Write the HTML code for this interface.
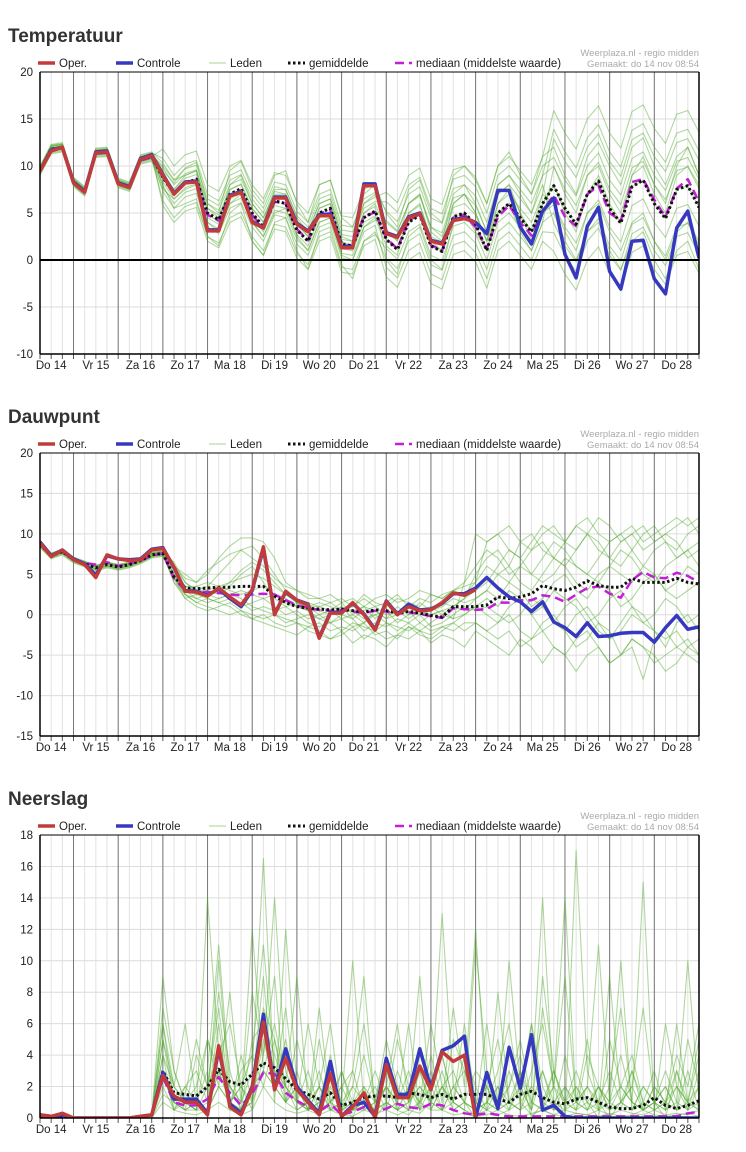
<!DOCTYPE html>
<html><head><meta charset="utf-8"><style>
html,body{margin:0;padding:0;background:#fff;}
svg{display:block;font-family:"Liberation Sans",Arial,sans-serif;}
</style></head><body>
<svg id="chart" width="746" height="1152" viewBox="0 0 746 1152" xmlns="http://www.w3.org/2000/svg"></svg>
<script>
// ---- shared categories ----
const dayLabels = ["Do 14","Vr 15","Za 16","Zo 17","Ma 18","Di 19","Wo 20","Do 21","Vr 22","Za 23","Zo 24","Ma 25","Di 26","Wo 27","Do 28"];
const nSteps = 60;

// ---- Temperatuur ----
const tempTicks = [20,15,10,5,0,-5,-10];
const tempOper = [9.5,11.6,12.0,8.2,7.2,11.4,11.5,8.1,7.7,10.7,11.1,9.0,7.0,8.2,8.3,3.1,3.1,6.8,7.2,4.0,3.4,6.6,6.6,3.8,3.0,4.7,4.7,1.3,1.3,7.9,7.9,2.8,2.4,4.5,4.9,2.0,1.7,4.2,4.4,4.0];
const tempCtrl = [9.5,11.7,12.0,8.3,7.3,11.5,11.6,8.2,7.8,10.8,11.2,9.1,7.1,8.3,8.4,3.2,3.2,6.9,7.3,4.1,3.5,6.7,6.7,3.9,3.1,4.8,4.9,1.4,1.4,8.1,8.1,2.9,2.5,4.6,5.0,2.1,1.8,4.3,4.5,4.0,2.8,7.4,7.4,3.5,1.7,5.2,6.6,0.6,-1.9,3.6,5.6,-1.2,-3.1,2.0,2.1,-2.0,-3.6,3.4,5.2,0.2];
const tempMean = [9.5,11.8,12,8.3,7.3,11.4,11.5,8.2,7.8,10.7,11,8.8,7,8.2,8.6,5,4.3,7,7.6,5,3.5,6.3,6,3.2,2,5,5.5,1.7,1.5,4.5,5.2,2.2,1.1,4,4.8,1.5,0.9,4.6,5,3.8,1,5,6,4.5,3,6,7.9,5.5,3.8,7,8.4,5.5,3.9,7.8,8.5,6,4.4,7.5,7.9,5.6];
const tempMedian = [9.5,11.7,11.9,8.2,7.3,11.3,11.4,8.1,7.7,10.6,10.9,8.8,7.1,8.1,8.5,4.8,4.2,6.9,7.4,4.8,3.4,6.2,6.0,3.3,2.1,4.9,5.3,1.6,1.5,4.6,5.1,2.3,1.2,4.2,4.9,1.6,1.0,4.5,4.8,3.5,1.2,4.6,5.8,4.0,2.6,5.2,6.9,4.6,3.6,7.0,7.9,5.0,4.2,8.3,8.6,6.4,4.6,7.6,8.6,6.2];
const tempM1 = [9.9,12.2,12.4,8.7,7.7,11.8,11.9,8.6,8.2,11.1,11.4,10.8,9,10.2,10.6,7,6.3,9,9.6,7,5.5,8.3,8,5.2,4,7,7.5,3.7,3.5,6.5,7.2,5.2,4.1,7,7.8,4.5,3.9,7.6,8,6.8,4,8,9,7.5,6,9,13.9,11.5,9.8,13,14.4,11.5,9.9,13.8,14.5,12,10.4,13.5,13.9,11.6];
const tempM2 = [9.1,11.4,11.6,7.9,6.9,11,11.1,7.8,7.4,10.3,10.6,7.3,5.5,6.7,7.1,3.5,2.8,5.5,6.1,3.5,2,4.8,4.5,1.7,0.5,3.5,4,0.2,0,3,3.7,-0.8,-1.9,1,1.8,-1.5,-2.1,1.6,2,0.8,-2,2,3,1.5,0,3,2.9,0.5,-1.2,2,3.4,0.5,-1.1,2.8,3.5,1,-0.6,2.5,2.9,0.6];
const tempM3 = [9.7,12,12.2,8.5,7.5,11.6,11.7,8.4,8,10.9,11.2,9.8,8,9.2,9.6,6,5.3,8,8.6,6,4.5,7.3,7,4.2,3,6,6.5,2.7,2.5,5.5,6.2,6.2,5.1,8,8.8,5.5,4.9,8.6,9,7.8,5,9,10,8.5,7,10,10.9,8.5,6.8,10,11.4,8.5,6.9,10.8,11.5,9,7.4,10.5,10.9,8.6];
const tempM4 = [9.3,11.6,11.8,8.1,7.1,11.2,11.3,8,7.6,10.5,10.8,6.3,4.5,5.7,6.1,2.5,1.8,4.5,5.1,2.5,1,3.8,3.5,0.7,-0.5,2.5,3,-0.8,-1,2,2.7,1.2,0.1,3,3.8,0.5,-0.1,3.6,4,2.8,0,4,5,3.5,2,5,5.9,3.5,1.8,5,6.4,3.5,1.9,5.8,6.5,4,2.4,5.5,5.9,3.6];
const tempM5 = [9.5,11.8,12,8.3,7.3,11.4,11.5,8.2,7.8,10.7,11,11.8,10,11.2,11.6,8,7.3,10,10.6,8,6.5,9.3,9,6.2,5,8,8.5,4.7,4.5,7.5,8.2,3.2,2.1,5,5.8,2.5,1.9,5.6,6,4.8,2,6,7,5.5,4,7,12.9,10.5,8.8,12,13.4,10.5,8.9,12.8,13.5,11,9.4,12.5,12.9,10.6];
const tempM6 = [9.8,12.1,12.3,8.6,7.6,11.7,11.8,8.5,8.1,11,11.3,7.8,6,7.2,7.6,4,3.3,6,6.6,4,2.5,5.3,5,2.2,1,4,4.5,0.7,0.5,3.5,4.2,4.2,3.1,6,6.8,3.5,2.9,6.6,7,5.8,3,7,8,6.5,5,8,3.9,1.5,-0.2,3,4.4,1.5,-0.1,3.8,4.5,2,0.4,3.5,3.9,1.6];
const tempM7 = [9.2,11.5,11.7,8,7,11.1,11.2,7.9,7.5,10.4,10.7,9.3,7.5,8.7,9.1,5.5,4.8,7.5,8.1,5.5,4,6.8,6.5,3.7,2.5,5.5,6,2.2,2,5,5.7,0.2,-0.9,2,2.8,-0.5,-1.1,2.6,3,1.8,-1,3,4,2.5,1,4,9.9,7.5,5.8,9,10.4,7.5,5.9,9.8,10.5,8,6.4,9.5,9.9,7.6];
const tempM8 = [9.6,11.9,12.1,8.4,7.4,11.5,11.6,8.3,7.9,10.8,11.1,5.8,4,5.2,5.6,2,1.3,4,4.6,2,0.5,3.3,3,0.2,-1,2,2.5,-1.3,-1.5,1.5,2.2,-1.8,-2.9,0,0.8,-2.5,-3.1,0.6,1,-0.2,-3,1,2,0.5,-1,2,0.9,-1.5,-3.2,0,1.4,-1.5,-3.1,0.8,1.5,-1,-2.6,0.5,0.9,-1.4];
const tempM9 = [10,12.3,12.5,8.8,7.8,11.9,12,8.7,8.3,11.2,11.5,10.3,8.5,9.7,10.1,6.5,5.8,8.5,9.1,6.5,5,7.8,7.5,4.7,3.5,6.5,7,3.2,3,6,6.7,7.2,6.1,9,9.8,6.5,5.9,9.6,10,8.8,6,10,11,9.5,8,11,15.9,13.5,11.8,15,16.4,13.5,11.9,15.8,16.5,14,12.4,15.5,15.9,13.6];
const tempM10 = [9,11.3,11.5,7.8,6.8,10.9,11,7.7,7.3,10.2,10.5,8.3,6.5,7.7,8.1,4.5,3.8,6.5,7.1,4.5,3,5.8,5.5,2.7,1.5,4.5,5,1.2,1,4,4.7,2.2,1.1,4,4.8,1.5,0.9,4.6,5,3.8,1,5,6,4.5,3,6,7.9,5.5,3.8,7,8.4,5.5,3.9,7.8,8.5,6,4.4,7.5,7.9,5.6];
const tempM11 = [9.7,12.1,12.3,8.6,7.6,11.7,11.8,8.5,8.1,11,11.3,9.5,8.2,9.8,10.4,6,5,9.5,10.5,7.5,6,9,9.5,6,4,8,8.5,4.5,3.5,7,8,5,3.5,7.5,8.5,5,4,9,10,8.5,6,10,11.5,9,7,11,12,9,7,11,12.5,10,8,12,13,10,8,11,12,9];
const tempM12 = [9.4,11.7,11.9,8.2,7.2,11.3,11.4,8.1,7.7,10.6,10.9,8,5.5,6,6.5,2.5,1.5,5,6,2,0.5,4,4.5,1,-1,3,3.5,-0.5,-2,2,3,0,-1.5,2.5,3.5,0,-1,4,5,3,1,6,7.5,5,3,7,6,3,1,5,6,3,1,4,5,2,0,3,4,2];
const tempM13 = [9.6,11.9,12.1,8.4,7.4,11.5,11.6,8.3,7.9,10.8,11.1,9,7.5,9,9.5,5,4,8,9,6,4.5,7,7,4,2.5,5.5,6,2,1.5,5,6,3,2,6,7,3,2,7,8,6,3,8,9,7,5,9,10,7,5,9,10,7,5,9,10,7,5,9,10,8];
const tempM14 = [9.3,11.5,11.8,8.0,7.0,11.2,11.3,8.0,7.6,10.5,10.8,7.5,6.5,7.5,8,4,3,6,7,4,2.5,5,5.5,2.5,1,4,4.5,0.5,0,3.5,4.5,1.5,0.5,5,6,2,1,6,7,5,2,7,8,5,2,6,8,5,3,7,9,6,4,9,11,8,6,10,12,9];
const tempM15 = [9.8,12.2,12.3,8.5,7.5,11.6,11.8,8.4,8.0,10.9,11.2,10,8.5,9,9.5,5.5,4.5,7.5,8,5.5,4,7.5,7.5,4.5,3,6,6.5,2.5,2,6,7,4,3,6,7,3.5,2.5,6,7,5,2,5,6,3,1,4,5,2,0,3,4,1,-1,2,3,0,-2,1,2,-1];

// ---- Dauwpunt ----
const dewTicks = [20,15,10,5,0,-5,-10,-15];
const dewOper = [8.9,7.2,8.0,6.8,6.2,4.6,7.4,6.9,6.7,6.8,8.0,8.2,5.9,2.9,2.8,2.3,3.3,2.2,1.2,3.1,8.4,0,2.9,1.8,1.2,-2.9,0.2,0.2,1.5,0,-1.9,1.6,0,1.0,0.5,0.6,1.5,2.7,2.4,3.1];
const dewCtrl = [9.0,7.3,8.0,6.9,6.3,4.9,7.3,6.9,6.8,6.9,8.1,8.3,5.8,3.0,2.9,2.4,3.2,2.0,1.0,3.0,8.2,0.1,2.8,1.8,1.3,-2.8,0.3,0.3,1.4,0.1,-1.8,1.7,0.1,1.3,0.6,0.7,1.4,2.6,2.6,3.3,4.6,3.3,2.2,1.6,0.4,1.6,-0.9,-1.6,-2.7,-1.0,-2.7,-2.6,-2.3,-2.2,-2.2,-3.4,-1.6,-0.1,-1.8,-1.5];
const dewMean = [8.7,7.3,7.8,6.8,6.3,5.8,6.2,5.9,6.2,6.7,7.4,7.6,4.7,3.3,3.2,3.3,3.4,3.4,3.5,3.5,3.5,2.3,1.5,1.0,0.8,0.7,0.6,0.7,0.5,0.3,0.6,0.5,0.2,0.4,0.2,-0.1,-0.3,1.0,1.0,1.0,1.2,2.2,2.0,2.2,2.6,3.6,3.2,3.0,3.4,4.2,3.6,3.4,3.4,4.5,4.0,4.0,4.0,4.5,4.0,3.8];
const dewMedian = [8.7,7.3,7.8,6.8,6.4,6.2,6.5,6.0,6.3,6.7,7.3,7.6,4.5,3.0,2.8,2.8,2.7,2.5,2.4,2.5,2.6,2.5,1.8,1.2,0.8,0.6,0.5,0.6,0.4,0.2,0.5,0.4,0.1,0.3,0.1,-0.2,-0.4,0.8,0.7,0.6,0.7,1.5,1.5,1.8,1.8,2.4,2.2,1.6,2.5,3.3,3.5,2.6,2.1,4.3,5.3,4.6,4.5,5.2,4.8,4.0];
const dewM1 = [9.2,7.6,8.1,7.1,6.6,6.1,6.5,6.2,6.5,7,7.7,7.9,6,4.5,4,5,7,8.5,9.5,9.5,9,7,4,3,2,2,1.5,2,1,2.5,1.5,1,2,1.5,1,2.5,2,3,2.5,4,9,10,8,7,9,11,10,9,11,12,10,9,10,11,9,10,11,12,11,12];
const dewM2 = [8.4,7,7.5,6.5,6,5.5,5.9,5.6,5.9,6.4,7.1,7.3,5,2.5,1.5,1,0.5,0,0.5,-0.5,0,-1,-1.5,-1,-2,-2.5,-3,-2,-3.5,-2.5,-3,-4,-2.5,-3,-2,-3.5,-2.5,-3,-4,-2,-3,-4,-5,-3,-4,-6,-4,-5,-7,-5,-4,-6,-5,-3,-4,-6,-5,-4,-5,-6];
const dewM3 = [8.9,7.4,7.9,6.9,6.4,5.9,6.3,6,6.3,6.8,7.5,7.7,6.5,4,3,3.5,5,6.5,8,8.5,7,5,3,2,1.5,1,0.5,1.5,0,1,0.5,-0.5,1,0,1.5,0.5,1,2,1.5,2,3,5,6,4,3,5,7,6,4,3,5,6,8,7,5,4,6,7,8,6];
const dewM4 = [8.6,7.2,7.7,6.7,6.2,5.7,6.1,5.8,6.1,6.6,7.3,7.5,4,2,2.5,2,1.5,2,1,1.5,2,1,0,0.5,-0.5,0,-1,-0.5,-1.5,-1,0,-1,-2,-1,0,-1.5,-1,0,1,0.5,1,0,-1,0,2,1,-1,-2,0,1,-1,-3,-2,0,-1,-2,-4,-1,0,-2];
const dewM5 = [9,7.5,8,7,6.5,6,6.4,6.1,6.4,6.9,7.6,7.8,5.5,3.5,3,3,3.5,4,4.5,5,4.5,3.5,2.5,1.5,1,1.5,1,0.5,0.5,1,-0.5,0.5,0,1,0,0.5,1.5,1,2,5,7,8,6,9,10,8,7,9,11,10,8,7,9,10,8,9,10,9,7,8];
const dewM6 = [8.7,7.3,7.8,6.8,6.3,5.8,6.2,5.9,6.2,6.7,7.4,7.6,5,3,2.5,2.5,2,2.5,3,2.5,2,2.5,2,1,0.5,-0.5,-1,0,-0.5,-2,-1,-1.5,-0.5,-1,-2,-1,0,-0.5,0,1,2,1,3,2,0,1,3,2,1,-1,0,2,3,1,-1,0,2,1,-1,0];
const dewM7 = [8.8,7.4,7.9,6.9,6.4,5.9,6.3,6,6.3,6.8,7.5,7.7,6,5,4,5.5,6.5,7.5,8,7,6,4.5,3.5,3,2.5,2,2.5,1.5,2,1,2,2.5,1.5,2,3,2.5,2,3,3.5,4,6,5,4,6,5,4,5,7,6,5,4,6,5,4,6,5,3,4,6,5];
const dewM8 = [8.5,7.1,7.6,6.6,6.1,5.6,6,5.7,6,6.5,7.2,7.4,4.5,2,1,0.5,1,1.5,0.5,0,-0.5,0,-0.5,-1,-1.5,-1,-2,-1.5,-2,-1,-2.5,-2,-3,-1.5,-2,-2.5,-1.5,-2,-1,-1,-2,-1,0,-2,-3,-1,0,-2,-4,-3,-1,-2,-5,-4,-8,-3,-2,-4,-3,-5];
const dewM9 = [9.1,7.6,8.1,7.1,6.6,6.1,6.5,6.2,6.5,7,7.7,7.9,5.5,3.5,3.5,4,3.5,3,2.5,3,3.5,2.5,1.5,1,0.5,0.5,0,1,-0.5,0.5,1,0,0.5,-0.5,0.5,1,0,1,0.5,2,3,2,4,3,1,2,4,5,3,2,4,3,1,2,4,5,3,2,3,4];
const dewM10 = [8.3,6.9,7.4,6.4,5.9,5.4,5.8,5.5,5.8,6.3,7,7.2,4.5,3,3.5,3,2.5,3.5,5,6,4,2,1,1.5,1,0,0.5,-0.5,0,-1,0.5,-0.5,0,0.5,-1,0,0.5,-0.5,4,10,9,10,11,9,8,10,11,9,8,10,12,11,9,10,11,9,10,11,12,10];
const dewM11 = [8.8,7.4,7.9,6.9,6.4,5.9,6.3,6.0,6.3,6.8,7.5,7.7,5,3,2,1.5,2,2.5,2,1,0.5,0,-1,-0.5,0,-0.5,0,1,0.5,-0.5,0,0.5,-1,0,0.5,0,0.5,1,2,3,4,6,8,7,5,7,9,8,6,5,7,9,10,8,6,8,9,7,8,9];
const dewM12 = [8.6,7.2,7.7,6.7,6.2,5.7,6.1,5.8,6.1,6.6,7.3,7.5,4,2.5,2,2.5,3,2,1.5,0.5,1,0.5,1,0,-1,-1.5,-1,-2,-1,-1.5,-2,-1,-1.5,-2,-1,-2,-1.5,-1,0,1,0,-1,1,2,0,-2,-1,1,2,0,-2,-3,-1,1,0,-2,-3,-2,-4,-5];
const dewM13 = [9.0,7.5,8.0,7.0,6.5,6.0,6.4,6.1,6.4,6.9,7.6,7.8,6,4,3,2.5,3,4,5.5,6.5,5.5,4,2.5,1.5,1,1,1.5,0.5,1,2,1,1.5,2.5,1,2,1.5,2.5,3,4,6,8,7,5,6,8,9,7,6,8,10,9,7,6,8,10,11,9,8,10,11];
const dewM14 = [8.5,7.1,7.6,6.6,6.1,5.6,6.0,5.7,6.0,6.5,7.2,7.4,4.5,2.5,1.5,2,1.5,1,0,-0.5,-1,-1.5,-2,-2.5,-1.5,-2,-3,-2.5,-1.5,-3,-2,-3,-2.5,-1.5,-2.5,-3,-2,-1,-2,-1,-2,-3,-2,-4,-3,-2,-4,-5,-3,-2,-4,-6,-5,-3,-4,-5,-7,-6,-4,-3];

// ---- Neerslag ----
const rainTicks = [18,16,14,12,10,8,6,4,2,0];
const rainOper = [0.2,0.1,0.3,0,0,0,0,0,0,0.1,0.2,2.7,1.4,1.0,1.0,0.2,4.6,0.7,0.2,1.9,6.1,1.8,3.8,1.8,1.0,0.2,2.8,0.1,0.7,1.6,0,3.4,1.3,1.3,3.3,1.8,4.2,3.6,4.0,0];
const rainCtrl = [0.2,0.1,0.2,0,0,0,0,0,0,0.1,0.2,2.9,1.2,1.2,1.2,0.3,4.4,0.9,0.3,2.0,6.6,1.8,4.4,2.0,1.1,0.3,3.6,0.1,0.8,1.0,0.1,3.8,1.5,1.5,4.4,1.9,4.3,4.6,5.2,0,2.9,0.6,4.5,1.9,5.3,0.5,0.8,0.1,0,0,0,0,0,0,0,0,0,0,0,0];
const rainMean = [0.1,0.05,0.1,0,0,0,0,0,0,0.05,0.2,3.0,1.6,1.5,1.4,2.0,3.1,2.3,2.1,2.8,3.5,3.2,2.5,1.8,1.5,1.2,1.6,0.8,1.0,1.3,1.4,1.4,1.3,1.6,1.5,1.3,1.5,1.2,1.5,1.5,1.5,1.2,1.0,1.5,1.7,1.3,1.0,0.9,1.2,1.3,1.0,0.7,0.6,0.6,0.8,1.3,0.8,0.6,0.8,1.1];
const rainMedian = [0,0,0,0,0,0,0,0,0,0,0.1,2.6,1.0,0.8,0.8,1.2,2.6,1.6,0.8,1.5,2.9,2.8,1.6,1.1,0.7,0.4,0.9,0.2,0.4,0.7,0.4,0.6,0.9,0.7,0.6,0.9,0.8,0.5,0.3,0.2,0.3,0.2,0.1,0.1,0.1,0.1,0.1,0.1,0.1,0.1,0.1,0.1,0.1,0.1,0.1,0.1,0.1,0.1,0.3,0.4];
const rainM1 = [0.3,0.1,0,0,0,0,0,0,0,0,0.1,9,3,1,0.5,14,4,2,1,3,16.5,2,1,5,2,0.5,3,1,0,2,1,4,0.5,2,1,6,2,3,1,0,2,0.5,1,3,0,1,2,0,17,3,1,0,1,0.5,2,1,0,3,1,0.5];
const rainM2 = [0.1,0,0.2,0,0,0,0,0,0,0,0,4,2,6,1,3,11,2,1,8,4,14,3,1,6,2,0.5,1,10,1,0.5,2,1,0.5,3,1,13,2,1,0.5,1,3,6,1,2,14,1,0.5,2,1,0,5,2,1,15,0.5,1,2,0.5,3];
const rainM3 = [0,0,0,0,0,0.1,0,0,0,0,0.2,6,1,0.5,4,2,8,3,0.5,2,9,1,12,2,0.5,7,1,0.5,3,9,0.5,1,5,2,0.5,4,1,7,2,12,1,0.5,3,1,6,2,0.5,4,1,2,11,1,0.5,3,1,0.5,6,2,1,4];
const rainM4 = [0.2,0.1,0,0,0,0,0,0,0,0,0,2,0.5,1,0.5,1,6,0.5,4,1,3,2,5,1,0.5,2,6,0.5,1,1.5,0.5,3,1,6,0.5,2,4,1,0.5,0,1,2,0.5,3,1,0.5,2,9,1,0.5,2,1,10,0.5,1,3,0.5,1,10,1];
const rainM5 = [0,0,0.1,0,0,0,0,0,0,0,0.1,3,1.5,0.5,1,0.5,2,1,0.5,5,6,3,2,1,0.5,1,0.5,0.5,1,2,0,1,0.5,1,2,1,3,0.5,1,0.5,6,1,2,4,0.5,9,3,1,0.5,2,1,0.5,2,1,0.5,1,2,0.5,3,0.5];
const rainM6 = [0.1,0,0,0,0,0,0,0,0,0,0,5,2,1,0.5,0.5,3,2,0.5,1,7,5,2,0.5,1,0.5,2,0.5,0.5,1,2,0.5,1,0.5,4,2,0.5,5,3,1,0.5,2,1,0.5,3,6,2,1,0.5,1,0.5,9,1,2,0.5,1,3,1,0.5,2];
const rainM7 = [0,0,0,0,0,0,0,0.1,0,0,0,1,0.5,0.3,0.2,0.5,1,0.5,0.2,0.5,2,1,0.5,0.3,0.5,0.2,0.5,0.2,0.1,0.5,0.3,0.5,0.2,0.5,0.3,1,0.5,0.2,0.3,0.1,0.2,0.5,0.2,0.1,0.3,0.5,0.2,0.1,0.3,0.2,0.1,0.3,0.1,0.2,0.5,0.2,0.1,0.2,0.3,0.1];
const rainM8 = [0.2,0,0,0,0,0,0,0,0,0,0,4,0.5,2,3,1,10,1,2,0.5,4,9,1,3,0.5,2,1,3,0.5,0.5,1,2,0.5,1,9,0.5,2,1,0.5,11,3,1,10,2,0.5,3,1,2,0.5,4,2,0.5,1,2,7,1,0.5,2,1,5];
const rainM9 = [0,0,0,0,0,0,0,0,0,0,0,2.5,1,0.5,1,0.5,3,1,0.5,2,3,2,1,0.5,1,0.5,1,0.2,0.5,1,0.5,1,0.5,0.2,1,0.5,0.5,1,0.5,0.2,0.5,0.2,0.5,1,0.2,0.5,0.2,0.5,0.3,0.2,0.5,0.2,0.5,0.3,0.2,0.5,0.2,0.3,0.2,0.5];
const rainM10 = [0.1,0,0,0,0,0,0,0,0,0,0,7,3,1,2,5,2,8,1,12,3,6,2,9,1,2,0.5,3,1,4,1,2,6,1,3,0.5,2,1,4,2,0.5,8,1,2,0.5,7,2,14,1,2,0.5,2,7,1,0.5,2,1,4,2,6];
const rainM11 = [0,0,0,0,0,0,0,0,0,0,0.2,6,2,1,0.5,5,3,1,2,4,11,3,1,2,0.5,5,1,2,0.5,1,3,1,0.5,2,1,3,0.5,2,1,0.5,1,0.5,2,5,1,0.5,3,1,2,0.5,1,3,1,0.5,2,1,0.5,6,1,2];
const rainM12 = [0.1,0,0,0,0,0,0,0,0,0,0,3,0.5,1.5,5,2,4,6,2,1,5,2,7,1,3,0.5,1,2,3,0.5,1,5,2,0.5,1,2,4,1,6,1,0.5,1,0.5,2,6,1,0.5,2,1,5,0.5,1,2,4,1,0.5,1,3,0.5,1];
const rainM13 = [0,0,0,0,0,0,0,0,0,0,0,1.5,1,2,1,0.5,2,1,3,4,2,5,1,2,1,3,0.5,1,2,1,0.5,2,1,3,0.5,1,2,0.5,1,3,2,0.5,1,0.5,2,1,3,0.5,1,0.5,2,0.5,1,3,0.5,1,2,0.5,1,0.5];
const rainM14 = [0.3,0.1,0,0,0,0,0,0,0,0,0,5,1,0.5,0.5,2,7,1,0.5,1,6,4,2,1,0.5,1,4,0.5,2,6,1,0.5,3,1,2,1,0.5,2,3,1,2,5,1,0.5,1,3,0.5,1,3,1,2,1,4,1,0.5,2,1,0.5,5,2];

const tempMembers = [tempM1,tempM2,tempM3,tempM4,tempM5,tempM6,tempM7,tempM8,tempM9,tempM10,tempM11,tempM12,tempM13,tempM14,tempM15];
const dewMembers = [dewM1,dewM2,dewM3,dewM4,dewM5,dewM6,dewM7,dewM8,dewM9,dewM10,dewM11,dewM12,dewM13,dewM14];
const rainMembers = [rainM1,rainM2,rainM3,rainM4,rainM5,rainM6,rainM7,rainM8,rainM9,rainM10,rainM11,rainM12,rainM13,rainM14];

const NS = "http://www.w3.org/2000/svg";
const svg = document.getElementById("chart");
const X0 = 40, X1 = 699;
function xAt(i){ return X0 + i*(X1-X0)/(nSteps-1); }
function mk(tag, attrs, parent){
  const e = document.createElementNS(NS, tag);
  for (const k in attrs) e.setAttribute(k, attrs[k]);
  (parent||svg).appendChild(e);
  return e;
}

function drawPanel(p){
  const g = mk("g", {});
  
  
  const yAt = v => p.top + (p.max - v)*(p.bottom - p.top)/(p.max - p.min);

  const title = mk("text", {x:8, y:p.titleY, "font-size":19, "font-weight":"bold", fill:"#333"}, g);
  title.textContent = p.title;
  
  

  for (let i=0;i<nSteps;i++){
    const x = xAt(i);
    mk("line",{x1:x,x2:x,y1:p.top,y2:p.bottom,stroke:"#e2e2e2","stroke-width":1},g);
    mk("line",{x1:x,x2:x,y1:p.bottom,y2:p.bottom+5,stroke:"#555","stroke-width":1},g);
  }
  p.ticks.forEach(v=>{
    const y = yAt(v);
    mk("line",{x1:X0,x2:X1,y1:y,y2:y,stroke:"#dcdcdc","stroke-width":1},g);
    const t = mk("text",{x:33,y:y+4,"font-size":11.5,"text-anchor":"end",fill:"#222"},g);
    t.textContent = v;
    
    
  });
  for (let k=0;k<dayLabels.length;k++){
    const di = 3 + 4*k;
    if (di < nSteps-1){
      const x = xAt(di);
      mk("line",{x1:x,x2:x,y1:p.top,y2:p.bottom,stroke:"#777","stroke-width":1},g);
    }
    const t = mk("text",{x:xAt(1+4*k),y:p.bottom+15,"font-size":11.5,"text-anchor":"middle",fill:"#222"},g);
    t.textContent = dayLabels[k];
    
    
  }
  const clipId = "clip-" + p.key;
  const cp = mk("clipPath",{id:clipId},g);
  mk("rect",{x:X0,y:p.top,width:X1-X0,height:p.bottom-p.top},cp);
  const plot = mk("g",{"clip-path":"url(#"+clipId+")"},g);

  function series(arr, attrs, name){
    const pts = arr.map((v,i)=>xAt(i).toFixed(1)+","+yAt(v).toFixed(1)).join(" ");
    const pl = mk("polyline", Object.assign({points:pts, fill:"none", "stroke-linejoin":"round"}, attrs), plot);
    
    
    return pl;
  }
  p.members.forEach(m => series(m, {stroke:"#4fa82a","stroke-opacity":0.45,"stroke-width":1.1}, p.key + '-member-line'));
  if (p.zero){
    const z = mk("line",{x1:X0,x2:X1,y1:yAt(0),y2:yAt(0),stroke:"#000","stroke-width":2},g);
    
    
  }
  series(p.median, {stroke:"#c21fd6","stroke-width":2.5,"stroke-dasharray":"9,5"}, p.key + '-median-line');
  series(p.mean, {stroke:"#111","stroke-width":3,"stroke-dasharray":"2.5,2.5"}, p.key + '-mean-line');
  series(p.ctrl, {stroke:"#3638c0","stroke-width":3.5}, p.key + '-controle-line');
  series(p.oper, {stroke:"#c23b3b","stroke-width":3.5}, p.key + '-oper-line');

  mk("line",{x1:X0,x2:X0,y1:p.top,y2:p.bottom,stroke:"#000","stroke-width":1.5},g);
  mk("line",{x1:X1,x2:X1,y1:p.top,y2:p.bottom,stroke:"#000","stroke-width":1.5},g);
  mk("line",{x1:X0,x2:X1,y1:p.bottom,y2:p.bottom,stroke:"#000","stroke-width":1.5},g);
  mk("line",{x1:X0,x2:X1,y1:p.top,y2:p.top,stroke:"#000","stroke-width":1},g);

  const ly = p.top - 9;
  const leg = mk("g",{},g);
  
  
  const items = [
    {x:38, label:"Oper.", a:{stroke:"#c23b3b","stroke-width":3.5}},
    {x:116, label:"Controle", a:{stroke:"#3638c0","stroke-width":3.5}},
    {x:209, label:"Leden", a:{stroke:"#4fa82a","stroke-opacity":0.5,"stroke-width":1}},
    {x:288, label:"gemiddelde", a:{stroke:"#111","stroke-width":3,"stroke-dasharray":"2.5,2.5"}},
    {x:395, label:"mediaan (middelste waarde)", a:{stroke:"#c21fd6","stroke-width":2.5,"stroke-dasharray":"9,5"}}
  ];
  items.forEach(it=>{
    const e = mk("g",{},leg);
    
    
    mk("line",Object.assign({x1:it.x,x2:it.x+17,y1:ly,y2:ly},it.a),e);
    const t = mk("text",{x:it.x+21,y:ly+4,"font-size":11.5,fill:"#222"},e);
    t.textContent = it.label;
  });
  const s1 = mk("text",{x:X1,y:p.top-16,"font-size":9.5,"text-anchor":"end",fill:"#aaa"},g);
  s1.textContent = "Weerplaza.nl - regio midden";
  
  
  const s2 = mk("text",{x:X1,y:p.top-5,"font-size":9.5,"text-anchor":"end",fill:"#aaa"},g);
  s2.textContent = "Gemaakt: do 14 nov 08:54";
  
  
}

drawPanel({key:"temperatuur", title:"Temperatuur", titleY:42, top:72, bottom:354, max:20, min:-10, ticks:tempTicks, zero:true,
  members:tempMembers, oper:tempOper, ctrl:tempCtrl, mean:tempMean, median:tempMedian});
drawPanel({key:"dauwpunt", title:"Dauwpunt", titleY:423, top:453, bottom:736, max:20, min:-15, ticks:dewTicks, zero:false,
  members:dewMembers, oper:dewOper, ctrl:dewCtrl, mean:dewMean, median:dewMedian});
drawPanel({key:"neerslag", title:"Neerslag", titleY:805, top:835, bottom:1118, max:18, min:0, ticks:rainTicks, zero:false,
  members:rainMembers, oper:rainOper, ctrl:rainCtrl, mean:rainMean, median:rainMedian});
</script>
</body></html>
